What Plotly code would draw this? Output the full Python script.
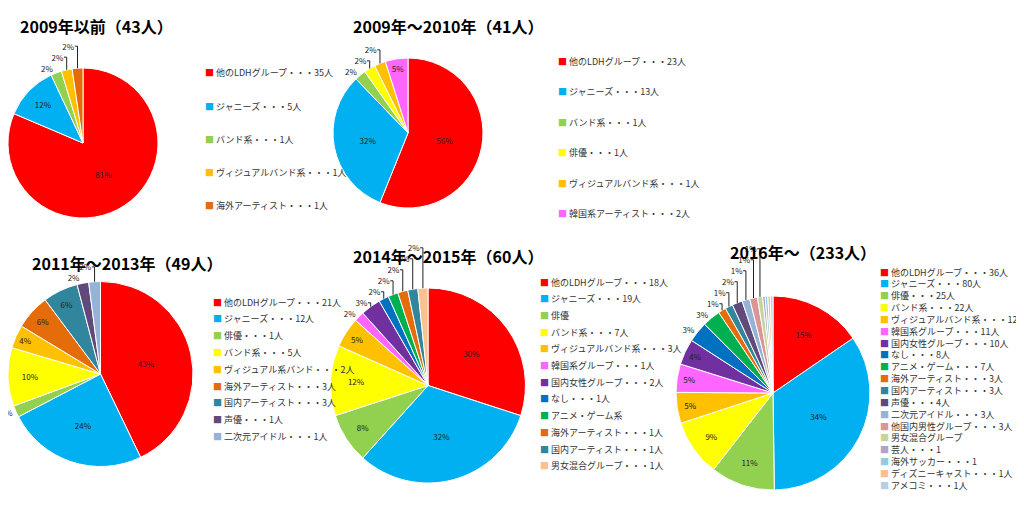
import plotly.graph_objects as go

W, H = 1024, 518

COLORS = {
    "他のLDHグループ": "#FF0000", "ジャニーズ": "#00B0F0", "俳優": "#92D050",
    "バンド系": "#FFFF00", "ヴィジュアルバンド系": "#FFC000", "韓国系": "#FF66FF",
    "国内女性グループ": "#7030A0", "なし": "#0070C0", "アニメ・ゲーム": "#00B050",
    "海外アーティスト": "#E46C0A", "国内アーティスト": "#31859C", "声優": "#604A7B",
    "二次元アイドル": "#95B3D7", "他国内男性グループ": "#D99694", "男女混合グループ": "#C3D69B",
    "芸人": "#B3A2C7", "海外サッカー": "#93CDDD", "ディズニーキャスト": "#FAC090", "アメコミ": "#B9CDE5",
}

# 2009年以前
cat1 = ["他のLDHグループ", "ジャニーズ", "俳優", "ヴィジュアルバンド系", "海外アーティスト"]
val1 = [35, 5, 1, 1, 1]
leg1 = ["他のLDHグループ・・・35人", "ジャニーズ・・・5人", "バンド系・・・1人",
        "ヴィジュアルバンド系・・・1人", "海外アーティスト・・・1人"]

# 2009年～2010年
cat2 = ["他のLDHグループ", "ジャニーズ", "俳優", "バンド系", "ヴィジュアルバンド系", "韓国系"]
val2 = [23, 13, 1, 1, 1, 2]
leg2 = ["他のLDHグループ・・・23人", "ジャニーズ・・・13人", "バンド系・・・1人", "俳優・・・1人",
        "ヴィジュアルバンド系・・・1人", "韓国系アーティスト・・・2人"]

# 2011年～2013年
cat3 = ["他のLDHグループ", "ジャニーズ", "俳優", "バンド系", "ヴィジュアルバンド系",
        "海外アーティスト", "国内アーティスト", "声優", "二次元アイドル"]
val3 = [21, 12, 1, 5, 2, 3, 3, 1, 1]
leg3 = ["他のLDHグループ・・・21人", "ジャニーズ・・・12人", "俳優・・・1人", "バンド系・・・5人",
        "ヴィジュアル系バンド・・・2人", "海外アーティスト・・・3人", "国内アーティスト・・・3人",
        "声優・・・1人", "二次元アイドル・・・1人"]

# 2014年～2015年
cat4 = ["他のLDHグループ", "ジャニーズ", "俳優", "バンド系", "ヴィジュアルバンド系", "韓国系",
        "国内女性グループ", "なし", "アニメ・ゲーム", "海外アーティスト", "国内アーティスト",
        "ディズニーキャスト"]
val4 = [18, 19, 5, 7, 3, 1, 2, 1, 1, 1, 1, 1]
leg4 = ["他のLDHグループ・・・18人", "ジャニーズ・・・19人", "俳優", "バンド系・・・7人",
        "ヴィジュアルバンド系・・・3人", "韓国系グループ・・・1人", "国内女性グループ・・・2人",
        "なし・・・1人", "アニメ・ゲーム系", "海外アーティスト・・・1人", "国内アーティスト・・・1人",
        "男女混合グループ・・・1人"]

# 2016年～
cat5 = ["他のLDHグループ", "ジャニーズ", "俳優", "バンド系", "ヴィジュアルバンド系", "韓国系",
        "国内女性グループ", "なし", "アニメ・ゲーム", "海外アーティスト", "国内アーティスト", "声優",
        "二次元アイドル", "他国内男性グループ", "男女混合グループ", "芸人", "海外サッカー",
        "ディズニーキャスト", "アメコミ"]
val5 = [36, 80, 25, 22, 12, 11, 10, 8, 7, 3, 3, 4, 3, 3, 2, 1, 1, 1, 1]
leg5 = ["他のLDHグループ・・・36人", "ジャニーズ・・・80人", "俳優・・・25人", "バンド系・・・22人",
        "ヴィジュアルバンド系・・・12人", "韓国系グループ・・・11人", "国内女性グループ・・・10人",
        "なし・・・8人", "アニメ・ゲーム・・・7人", "海外アーティスト・・・3人", "国内アーティスト・・・3人",
        "声優・・・4人", "二次元アイドル・・・3人", "他国内男性グループ・・・3人", "男女混合グループ",
        "芸人・・・1", "海外サッカー・・・1", "ディズニーキャスト・・・1人", "アメコミ・・・1人"]

titles = ["2009年以前（43人）", "2009年～2010年（41人）", "2011年～2013年（49人）",
          "2014年～2015年（60人）", "2016年～（233人）"]

FONT = "Noto Sans CJK JP"

# pie box (px), title pos, legend x, legend first y, legend step
panels = [
    (cat1, val1, leg1, (0, 150, 45, 225), (10, 18), 195, 65, 33),
    (cat2, val2, leg2, (325, 475, 25, 225), (343, 18), 548, 53, 30.5),
    (cat3, val3, leg3, (0, 185, 270, 462), (22, 255), 203, 294, 16.8),
    (cat4, val4, leg4, (322, 518, 280, 475), (343, 248), 530, 274, 16.7),
    (cat5, val5, leg5, (668, 862, 288, 482), (720, 244), 870, 264, 11.85),
]

fig = go.Figure()
annotations = []
for (cats, vals, legs, box, tpos, lx, ly, step), title in zip(panels, titles):
    x0, x1, y0, y1 = box
    total = sum(vals)
    labels_txt = [f"{round(v / total * 100)}%" if round(v / total * 100) >= 1 else "" for v in vals]
    pos = ["inside" if v / total >= 0.04 else "outside" for v in vals]
    fig.add_trace(go.Pie(
        labels=cats, values=vals, sort=False, direction="clockwise", rotation=0,
        marker=dict(colors=[COLORS[c] for c in cats], line=dict(color="white", width=1)),
        text=labels_txt, texttemplate="%{text}", textposition=pos,
        insidetextorientation="horizontal",
        textfont=dict(size=8, color="#222"), showlegend=False, automargin=False,
        domain=dict(x=[x0 / W, x1 / W], y=[1 - y1 / H, 1 - y0 / H]),
    ))
    for i, (c, t) in enumerate(zip(cats, legs)):
        annotations.append(dict(x=lx / W, y=1 - (ly + i * step) / H, xref="paper", yref="paper",
                                xanchor="left", yanchor="middle", showarrow=False,
                                text=f"<span style='color:{COLORS[c]}'>■</span> {t}",
                                font=dict(size=9, color="#333", family=FONT)))
    annotations.append(dict(x=tpos[0] / W, y=1 - tpos[1] / H, xref="paper", yref="paper",
                            xanchor="left", yanchor="middle", showarrow=False,
                            text=f"<b>{title}</b>", font=dict(size=16, color="black", family=FONT)))

fig.update_layout(
    width=W, height=H, margin=dict(l=0, r=0, t=0, b=0, autoexpand=False),
    paper_bgcolor="white", font=dict(family=FONT),
    annotations=annotations,
)

fig.write_html("out.html")
